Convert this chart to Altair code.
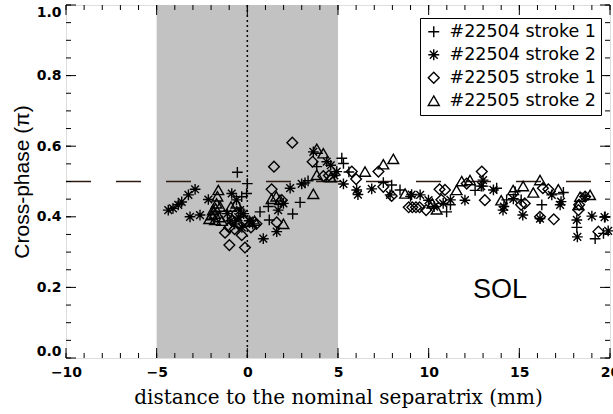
import altair as alt
import pandas as pd

# ---- data ----
labels = ["#22504 stroke 1", "#22504 stroke 2", "#22505 stroke 1", "#22505 stroke 2"]

s1_x = [-0.55, 0.0, -0.04, -0.31, 0.70, 1.16, 1.21, 2.50, 2.91, 3.18, 3.35, 3.83, 5.21, 5.30, 5.60,
        7.50, 7.96, 8.42, 9.00, 10.99, 11.20, 12.56, 13.00, 13.75, 14.30, 14.77, 15.10, 16.24,
        17.43, 18.17, 19.18, 19.64, 19.73]
s1_y = [0.526, 0.494, 0.466, 0.457, 0.414, 0.429, 0.391, 0.408, 0.441, 0.496, 0.502, 0.542, 0.566, 0.551, 0.527,
        0.497, 0.490, 0.476, 0.458, 0.414, 0.434, 0.475, 0.487, 0.481, 0.448, 0.471, 0.448, 0.434,
        0.469, 0.370, 0.338, 0.353, 0.400]

s2_x = [-4.36, -4.10, -3.81, -3.62, -3.25, -2.88, -3.16, -2.61, -2.15, -0.86, -0.60, -1.10, -0.90, -0.70,
        -0.50, -0.30, -0.20, 0.10, 0.30, -0.40, 0.88, 1.62, 1.99, 1.70, 2.36, 3.00, 3.64, 4.38, 4.60,
        4.93, 4.80, 5.30, 6.03, 6.10, 6.86, 7.87, 9.06, 9.53, 9.99, 10.30, 10.80, 11.20, 12.00, 13.00,
        12.90, 13.57, 14.10, 14.15, 14.67, 15.19, 16.14, 16.79, 17.25, 17.30, 18.17, 18.20, 18.63,
        19.00, 19.70, 19.90]
s2_y = [0.419, 0.424, 0.434, 0.442, 0.462, 0.478, 0.400, 0.405, 0.449, 0.466, 0.448, 0.409, 0.389, 0.380,
        0.399, 0.370, 0.409, 0.389, 0.380, 0.419, 0.338, 0.358, 0.438, 0.419, 0.481, 0.493, 0.584, 0.556, 0.546,
        0.528, 0.517, 0.493, 0.476, 0.463, 0.479, 0.462, 0.463, 0.462, 0.447, 0.429, 0.438, 0.448, 0.447, 0.504,
        0.487, 0.476, 0.419, 0.429, 0.451, 0.405, 0.395, 0.462, 0.434, 0.443, 0.391, 0.343, 0.458,
        0.402, 0.399, 0.360]

s3_x = [2.48, 1.47, 1.34, 1.90, 1.62, -0.99, -0.13, -0.31, -1.23, -1.00, -0.70, -0.50, -0.85, -0.20, 0.20,
        0.50, -0.60, 3.60, 4.19, 4.50, 5.76, 6.00, 7.23, 7.50, 7.96, 8.90, 9.10, 9.30, 9.50, 9.86, 10.60,
        10.90, 10.70, 12.10, 12.93, 13.10, 15.10, 15.30, 16.14, 16.30, 16.60, 16.90, 18.26, 18.30, 18.63, 19.36]
s3_y = [0.610, 0.542, 0.478, 0.447, 0.384, 0.320, 0.313, 0.348, 0.355, 0.370, 0.365, 0.380, 0.389, 0.389, 0.370,
        0.380, 0.409, 0.556, 0.515, 0.517, 0.528, 0.507, 0.528, 0.485, 0.459, 0.427, 0.427, 0.427, 0.427, 0.419, 0.478,
        0.476, 0.448, 0.494, 0.528, 0.447, 0.434, 0.438, 0.400, 0.481, 0.478, 0.393, 0.419, 0.434, 0.457, 0.358]

s4_x = [-1.60, -1.65, -1.70, -1.75, -1.80, -1.78, -1.97, -1.50, -1.55, -1.90, -1.40, -2.10, -0.90, -0.60,
        0.15, 0.40, 1.34, 1.99, 1.60, 1.80, 3.64, 3.83, 4.19, 3.83, 4.60, 6.49, 7.50, 8.05, 8.70, 10.44,
        10.20, 11.54, 11.82, 12.28, 14.00, 14.66, 15.21, 15.77, 16.14, 17.15, 18.26, 18.35, 18.90]
s4_y = [0.476, 0.458, 0.438, 0.424, 0.409, 0.391, 0.405, 0.429, 0.399, 0.419, 0.389, 0.394, 0.429, 0.438,
        0.386, 0.389, 0.451, 0.380, 0.458, 0.448, 0.465, 0.593, 0.580, 0.519, 0.512, 0.528, 0.549, 0.564, 0.466, 0.421,
        0.438, 0.476, 0.501, 0.504, 0.447, 0.476, 0.487, 0.469, 0.504, 0.478, 0.434, 0.457, 0.462]

band = [-5, 5]
separatrix = [0]
ref_level = [0.5]
x_major = [-10, -5, 0, 5, 10, 15, 20]
x_minor = list(range(-10, 21))
y_major = [0.0, 0.2, 0.4, 0.6, 0.8, 1.0]
y_minor = [round(i * 0.05, 2) for i in range(21)]
region_label = ["SOL"]
region_pos = [13.94, 0.193]

# ---- tables ----
rows = []
for lab, xs, ys in zip(labels, [s1_x, s2_x, s3_x, s4_x], [s1_y, s2_y, s3_y, s4_y]):
    for a, b in zip(xs, ys):
        rows.append({"x": a, "y": b, "series": lab})
pts = pd.DataFrame(rows)

W, H = 544, 353
MAJ, MIN = 10, 5
SANS = "Liberation Sans"

xscale = alt.Scale(domain=[-10, 20], nice=False, zero=False)
yscale = alt.Scale(domain=[0, 1], nice=False, zero=False)

XT = "distance to the nominal separatrix (mm)"
YT = "Cross-phase (π)"


def X(f="x"):
    return alt.X(f"{f}:Q", scale=xscale, title=XT,
                 axis=alt.Axis(values=x_major, format="d"))


def Y(f="y"):
    return alt.Y(f"{f}:Q", scale=yscale, title=YT,
                 axis=alt.Axis(values=y_major, format=".1f"))


band_df = pd.DataFrame({"x": [band[0]], "x2": [band[1]], "y": [0.0], "y2": [1.0]})
rect = alt.Chart(band_df).mark_rect(color="#c2c2c2").encode(
    x=X(), x2="x2:Q", y=Y(), y2="y2:Q")

sep = alt.Chart(pd.DataFrame({"x": separatrix})).mark_rule(
    color="black", strokeWidth=1.5, strokeDash=[2, 3]).encode(x=X())

ref_df = pd.DataFrame({"x": [-10], "x2": [20], "y": ref_level})
ref = alt.Chart(ref_df).mark_rule(color="#2e1c14", strokeWidth=1.5, strokeDash=[25, 25]).encode(
    x=X(), x2="x2:Q", y=Y())


def xticks(vals, L):
    d = pd.DataFrame({"x": vals})
    b = alt.Chart(d).mark_rule(color="black", strokeWidth=1).encode(
        x=X(), y=alt.value(H), y2=alt.value(H - L))
    t = alt.Chart(d).mark_rule(color="black", strokeWidth=1).encode(
        x=X(), y=alt.value(0), y2=alt.value(L))
    return [b, t]


def yticks(vals, L):
    d = pd.DataFrame({"y": vals})
    l = alt.Chart(d).mark_rule(color="black", strokeWidth=1).encode(
        y=Y(), x=alt.value(0), x2=alt.value(L))
    r = alt.Chart(d).mark_rule(color="black", strokeWidth=1).encode(
        y=Y(), x=alt.value(W), x2=alt.value(W - L))
    return [l, r]


tick_layers = xticks(x_major, MAJ) + xticks(x_minor, MIN) + yticks(y_major, MAJ) + yticks(y_minor, MIN)

plus = "M-1,0H1M0,-1V1"
aster = "M-1,0H1M0,-1V1M-0.72,-0.72L0.72,0.72M-0.72,0.72L0.72,-0.72"

points = alt.Chart(pts).mark_point(filled=False, color="black", strokeWidth=1.4, size=115, opacity=1).encode(
    x=X(), y=Y(),
    shape=alt.Shape("series:N",
                    scale=alt.Scale(domain=labels, range=[plus, aster, "diamond", "triangle-up"]),
                    legend=alt.Legend(title=None, orient="none", legendX=354, legendY=13,
                                      strokeColor="black", fillColor="white", padding=5,
                                      labelFont="DejaVu Sans", labelFontSize=17.5, labelColor="black",
                                      symbolSize=120, symbolStrokeColor="black", symbolStrokeWidth=1.4,
                                      symbolFillColor="transparent", rowPadding=4, labelOffset=7,
                                      labelLimit=300))
)

sol = alt.Chart(pd.DataFrame({"x": [region_pos[0]], "y": [region_pos[1]], "t": region_label})).mark_text(
    font=SANS, fontSize=27, color="black", align="center", baseline="middle").encode(
    x=X(), y=Y(), text="t:N")

chart = alt.layer(rect, sep, ref, *tick_layers, points, sol).properties(
    width=W, height=H,
    autosize=alt.AutoSizeParams(type="none"),
    padding={"left": 66, "top": 5, "right": 3, "bottom": 56},
).configure_view(stroke="black", strokeWidth=1.5).configure(background="white").configure_axis(
    ticks=False, domain=False, grid=False,
    labelFont="DejaVu Sans", labelFontWeight="bold", labelFontSize=14, labelColor="black",
    labelOverlap=False, labelBound=False,
    titleColor="black", titleFontWeight="normal",
).configure_axisX(
    labelFlush=False, labelPadding=7, titleFont="DejaVu Serif", titleFontSize=20, titlePadding=8,
).configure_axisY(
    labelFlush=True, labelFlushOffset=0, labelPadding=5, titleFont=SANS, titleFontSize=21, titlePadding=4,
)

chart.save("out.html", embed_options={"renderer": "svg", "actions": False})
